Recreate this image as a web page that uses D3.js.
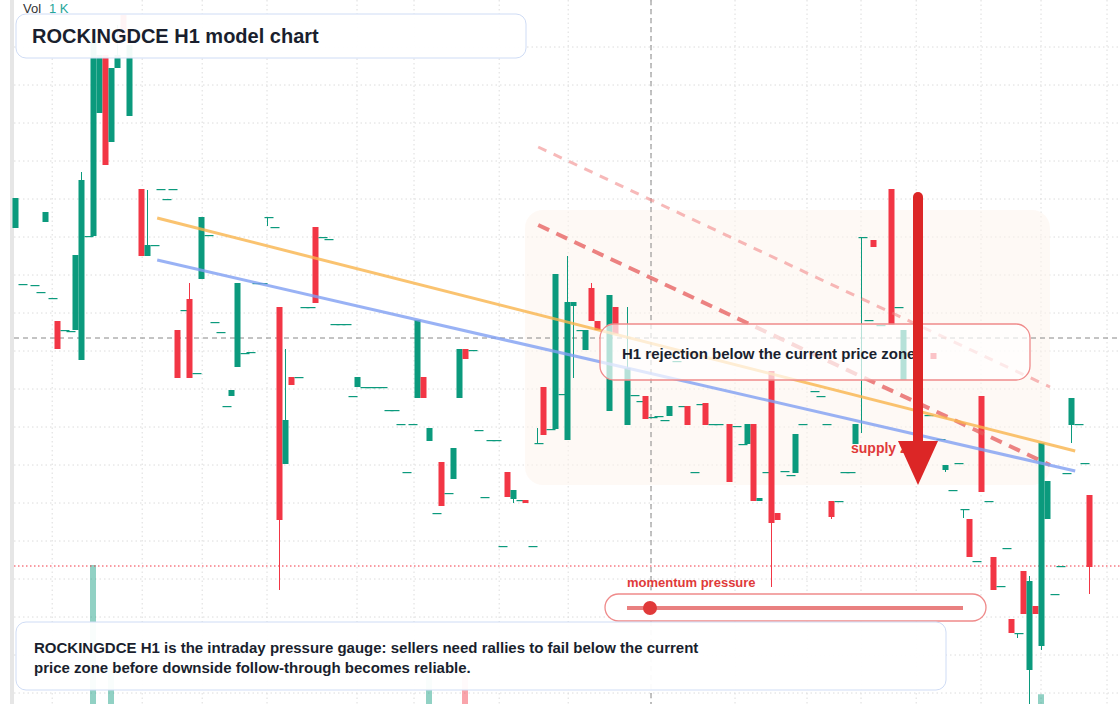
<!DOCTYPE html>
<html><head><meta charset="utf-8">
<script src="https://cdn.jsdelivr.net/npm/d3@7/dist/d3.min.js"></script>
<style>body{margin:0;background:#fff;font-family:"Liberation Sans",Arial,sans-serif}</style>
</head><body><svg id="c" width="1120" height="704"></svg>
<script>
// candles: [bar index, open, close, high, low] (price levels)
const candles = [
[0,476,506,506,476],[1,420,420,420,420],[3,419,419,419,419],[4,412,412,412,412],[5,482,492,492,482],[6,406,406,406,406],
[7,383,355,383,355],[8,374,374,374,374],[9,373,373,373,373],[10,374,449,449,374],[11,344,524,532,344],[12,468,468,468,468],
[13,468,664,664,468],[14,591,649,649,591],[15,649,539,649,539],[16,562,636,636,562],[17,636,649,679,636],[18,689,664,689,664],
[19,588,659,659,588],[21,515,448,515,448],[22,448,459,514,448],[23,459,459,459,459],[24,515,515,515,515],[25,505,505,505,505],
[26,515,515,515,515],[27,374,326,374,326],[28,394,394,394,394],[29,405,326,421,326],[30,331,331,331,331],[31,425,487,487,425],
[32,469,469,469,469],[33,382,382,382,382],[34,372,372,372,372],[35,298,298,298,298],[36,308,314,314,308],[37,337,421,421,337],
[38,351,351,351,351],[39,352,352,352,352],[40,421,421,421,421],[41,421,421,421,421],[42,487,487,487,478],[43,477,477,477,477],
[44,397,184,397,114],[45,240,284,355,240],[46,327,319,327,319],[47,327,327,327,327],[48,397,397,397,397],[49,397,397,397,397],
[50,477,401,477,401],[51,467,467,467,467],[52,465,465,465,465],[53,380,380,380,380],[54,380,380,380,380],[55,380,380,380,380],
[56,308,308,308,308],[57,317,327,327,317],[58,317,317,317,317],[59,317,317,317,317],[60,317,317,317,317],[61,317,317,317,317],
[62,294,294,294,294],[63,294,294,294,294],[64,280,280,280,280],[65,232,232,232,232],[66,280,280,280,280],[67,306,384,384,306],
[68,327,306,327,306],[69,263,276,276,263],[70,191,191,191,191],[71,242,198,242,198],[72,211,211,211,211],[73,225,256,256,225],
[74,306,355,355,306],[75,355,345,355,345],[76,354,354,354,354],[77,274,274,274,274],[78,207,207,207,207],[79,264,264,264,264],
[80,264,264,264,264],[81,158,158,158,158],[82,232,207,232,207],[83,205,214,214,201],[84,204,204,204,204],[85,204,201,204,201],
[86,158,158,158,158],[87,261,261,276,261],[88,317,269,317,269],[89,275,275,275,275],[90,275,430,430,275],[91,310,310,310,310],
[92,264,402,448,264],[93,398,402,402,326],[94,374,374,374,374],[95,354,374,374,354],[96,416,383,421,383],[97,383,374,383,374],
[99,293,409,409,293],[100,397,370,397,370],[102,279,336,397,279],[103,309,309,309,309],[104,303,303,303,303],[105,308,285,308,285],
[106,287,287,287,287],[107,288,288,288,288],[108,284,284,284,284],[109,288,298,298,288],[110,343,343,343,343],[111,298,298,298,298],
[112,298,279,298,279],[113,232,232,232,232],[114,300,300,300,300],[115,301,279,301,279],[116,280,280,280,280],[117,280,280,280,280],
[119,280,222,280,222],[120,278,278,278,278],[121,260,260,260,260],[122,260,280,280,260],[123,280,203,280,203],[124,203,206,206,203],
[125,232,232,232,232],[126,333,181,333,117],[127,191,184,191,184],[128,233,233,233,233],[129,229,229,229,229],[130,231,270,270,231],
[131,280,280,280,280],[133,313,313,313,313],[134,308,308,308,308],[135,280,280,280,280],[136,203,187,203,185],[137,203,203,203,203],
[138,232,232,232,232],[139,232,232,232,232],[140,260,280,280,260],[141,467,467,467,271],[142,384,384,384,384],[143,464,457,464,457],
[144,379,379,379,379],[146,515,379,515,379],[147,397,397,397,397],[148,324,374,374,324],[152,289,289,289,289],[153,351,345,351,345],
[154,265,265,265,265],[155,234,239,239,232],[156,214,214,214,214],[157,241,241,241,241],[158,195,195,195,186],[159,185,147,185,147],
[160,143,143,143,143],[161,308,212,308,212],[162,203,203,203,203],[163,147,114,147,114],[164,118,118,118,118],[165,156,156,156,156],
[166,85,71,85,71],[167,71,71,71,66],[168,133,90,133,90],[169,34,123,128,0],[170,98,90,98,90],[171,58,261,261,54],
[172,185,223,223,185],[173,110,110,110,110],[174,138,138,138,138],[175,231,231,231,231],[176,279,306,306,261],[177,280,280,280,280],
[178,241,241,241,241],[179,209,137,209,110]
];
// volume: [bar index, volume, up?]
const volumes = [[13,1000,1],[16,245,1],[69,215,1],[75,215,0],[171,70,1]];
const orangeLine = [[23.7,486],[176.7,253]];
const blueLine = [[23.7,444],[176.7,233]];
const resistDash = [[87.2,479],[172.5,239]];
const resistLight = [[87.2,557],[172.5,317]];
const crossIdx = 106, crossPrice = 366, redLevel = 138;
const zone = {i0:85,i1:172.5,p0:494,p1:219};
const gridPrices = [657,619,581,543,505,467,429,391,353,315,277,239,201,163,125,87,49,11];
const gridIdx = [6.2,21.2,31.2,42,57,66.5,80.7,92.2,106,120,132,141,150.2,161,171,182];

const W=1120,H=704, up="#0b9a7d", dn="#f23645";
const x = d3.scaleLinear().domain([0,179]).range([15,1089]);
const y = d3.scaleLinear().domain([0,704]).range([704,0]);
const yv = d3.scaleLinear().domain([0,1000]).range([704,565]);
const svg = d3.select("#c");
svg.append("rect").attr("x",10).attr("y",0).attr("width",4).attr("height",H).attr("fill","#e6e6e6");
const g = svg.append("g");
g.selectAll(".hg").data(gridPrices).join("line").attr("x1",14).attr("x2",W).attr("y1",d=>y(d)).attr("y2",d=>y(d))
 .attr("stroke","#dcdcdc").attr("stroke-dasharray","1.5,3");
g.selectAll(".vg").data(gridIdx).join("line").attr("y1",0).attr("y2",H).attr("x1",d=>x(d)).attr("x2",d=>x(d))
 .attr("stroke","#dcdcdc").attr("stroke-dasharray","1.5,3");
// zone
svg.append("rect").attr("x",x(zone.i0)).attr("y",y(zone.p0)).attr("width",x(zone.i1)-x(zone.i0)).attr("height",y(zone.p1)-y(zone.p0))
 .attr("rx",18).attr("fill","#fdf4ec").attr("opacity",0.55);
// volume
svg.selectAll(".vol").data(volumes).join("rect").attr("x",d=>x(d[0])-3).attr("width",6).attr("y",d=>yv(d[1])).attr("height",d=>H-yv(d[1]))
 .attr("fill",d=>d[2]?up:dn).attr("opacity",0.45);
// crosshair & levels
svg.append("line").attr("x1",x(crossIdx)).attr("x2",x(crossIdx)).attr("y1",0).attr("y2",H).attr("stroke","#888").attr("stroke-dasharray","5,4");
svg.append("line").attr("x1",14).attr("x2",W).attr("y1",y(crossPrice)).attr("y2",y(crossPrice)).attr("stroke","#888").attr("stroke-dasharray","5,4");
svg.append("line").attr("x1",14).attr("x2",W).attr("y1",y(redLevel)).attr("y2",y(redLevel)).attr("stroke",dn).attr("stroke-dasharray","1.5,2.5");
// candles
const cg = svg.selectAll(".cd").data(candles).join("g");
cg.append("line").attr("x1",d=>Math.round(x(d[0]))+0.5).attr("x2",d=>Math.round(x(d[0]))+0.5).attr("y1",d=>y(d[3])).attr("y2",d=>y(d[4]))
 .attr("stroke",d=>d[2]>=d[1]?up:dn).attr("stroke-width",1);
cg.append("rect").attr("x",d=>Math.round(x(d[0]))-2.5).attr("width",d=>d[1]===d[2]?9:6)
 .attr("y",d=>y(Math.max(d[1],d[2]))).attr("height",d=>Math.max(1.2,Math.abs(y(d[1])-y(d[2]))))
 .attr("fill",d=>d[2]>=d[1]?up:dn);
// lines
const ln = d3.line().x(d=>x(d[0])).y(d=>y(d[1]));
svg.append("path").attr("d",ln(resistLight)).attr("stroke","#f08080").attr("stroke-width",3).attr("stroke-dasharray","9,8").attr("opacity",0.55).attr("fill","none");
svg.append("path").attr("d",ln(resistDash)).attr("stroke","#e65a5a").attr("stroke-width",4).attr("stroke-dasharray","12,8").attr("opacity",0.75).attr("fill","none");
svg.append("path").attr("d",ln(orangeLine)).attr("stroke","#f9b44c").attr("stroke-width",3).attr("opacity",0.8).attr("fill","none");
svg.append("path").attr("d",ln(blueLine)).attr("stroke","#7f9ff2").attr("stroke-width",3).attr("opacity",0.8).attr("fill","none");
// supply zone label
svg.append("text").attr("x",851).attr("y",453).text("supply zone").attr("fill","#e03a3a").attr("font-weight","bold").attr("font-size",14);
// annotation box
svg.append("rect").attr("x",600).attr("y",324).attr("width",430).attr("height",56).attr("rx",14).attr("fill","#fff").attr("fill-opacity",0.7).attr("stroke","#ef8a8a").attr("stroke-width",1.3);
svg.append("text").attr("x",622).attr("y",359).text("H1 rejection below the current price zone").attr("fill","#1a1f2e").attr("font-weight","bold").attr("font-size",15);
// arrow
svg.append("line").attr("x1",918).attr("x2",918).attr("y1",197).attr("y2",445).attr("stroke","#dc2626").attr("stroke-width",10).attr("stroke-linecap","round");
svg.append("path").attr("d","M898,441L938,441L918,485Z").attr("fill","#dc2626");
// momentum
svg.append("text").attr("x",627).attr("y",587).text("momentum pressure").attr("fill","#e03a3a").attr("font-weight","bold").attr("font-size",13);
svg.append("rect").attr("x",605).attr("y",594).attr("width",381).attr("height",27).attr("rx",13.5).attr("fill","#fff").attr("stroke","#ef8a8a").attr("stroke-width",1.3);
svg.append("line").attr("x1",627).attr("x2",963).attr("y1",608).attr("y2",608).attr("stroke","#e66a6a").attr("stroke-width",4).attr("opacity",0.85);
svg.append("circle").attr("cx",650).attr("cy",608).attr("r",7).attr("fill","#e03a3a");
// title
svg.append("rect").attr("x",16).attr("y",14).attr("width",510).attr("height",44).attr("rx",10).attr("fill","#fff").attr("fill-opacity",0.95).attr("stroke","#cfdcf5");
svg.append("text").attr("x",32).attr("y",43).text("ROCKINGDCE H1 model chart").attr("fill","#1a1f2e").attr("font-weight","bold").attr("font-size",20);
const vt = svg.append("text").attr("x",23).attr("y",13).attr("font-size",13);
vt.append("tspan").text("Vol").attr("fill","#333");
vt.append("tspan").attr("x",49).text("1 K").attr("fill","#26a69a");
// bottom note
svg.append("rect").attr("x",16).attr("y",622).attr("width",930).attr("height",68).attr("rx",10).attr("fill","#fff").attr("fill-opacity",0.95).attr("stroke","#cfdcf5");
svg.append("text").attr("x",34).attr("y",653).text("ROCKINGDCE H1 is the intraday pressure gauge: sellers need rallies to fail below the current").attr("fill","#1a1f2e").attr("font-weight","bold").attr("font-size",15);
svg.append("text").attr("x",34).attr("y",673).text("price zone before downside follow-through becomes reliable.").attr("fill","#1a1f2e").attr("font-weight","bold").attr("font-size",15);
</script></body></html>
